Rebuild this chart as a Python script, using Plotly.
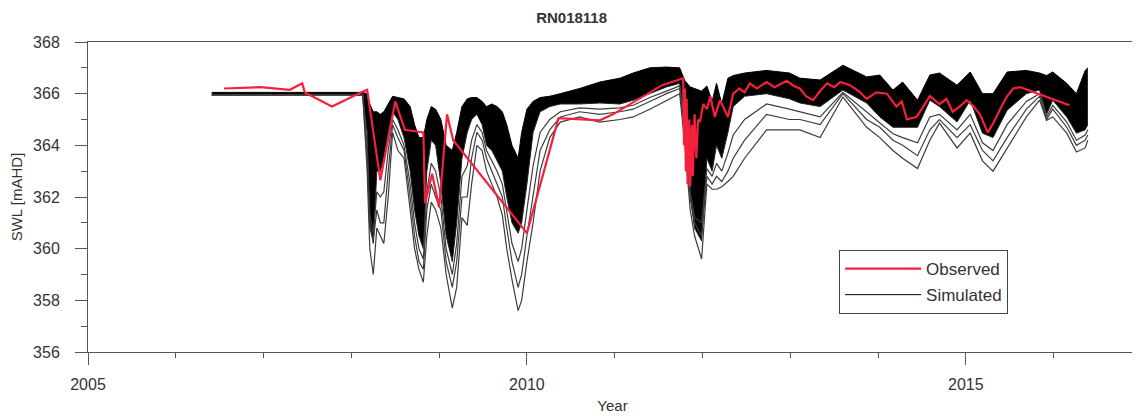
import plotly.graph_objects as go

chart_title = "RN018118"
x_title = "Year"
y_title = "SWL [mAHD]"
x_major_ticks = [2005, 2010, 2015]
x_minor_ticks = [2006, 2007, 2008, 2009, 2011, 2012, 2013, 2014, 2016]
y_major_ticks = [356, 358, 360, 362, 364, 366, 368]
y_minor_ticks = [357, 359, 361, 363, 365, 367]

# Observed water level (red)
obs_year = [2006.55, 2006.96, 2007.30, 2007.44, 2007.47, 2007.78, 2008.12, 2008.18,
            2008.33, 2008.50, 2008.61, 2008.82, 2008.84, 2008.92, 2009.00, 2009.09,
            2009.16, 2010.00, 2010.36, 2010.83, 2010.98, 2011.54, 2011.78, 2011.79,
            2011.80, 2011.81, 2011.82, 2011.83, 2011.85, 2011.86, 2011.88, 2011.89,
            2011.91, 2011.93, 2011.95, 2011.97, 2012.01, 2012.05, 2012.09, 2012.14,
            2012.20, 2012.25, 2012.29, 2012.35, 2012.42, 2012.48, 2012.54, 2012.62,
            2012.73, 2012.82, 2012.96, 2013.04, 2013.11, 2013.18, 2013.26, 2013.34,
            2013.42, 2013.50, 2013.57, 2013.68, 2013.78, 2013.87, 2013.98, 2014.10,
            2014.21, 2014.27, 2014.33, 2014.44, 2014.52, 2014.59, 2014.70, 2014.78,
            2014.85, 2014.93, 2015.01, 2015.09, 2015.16, 2015.25, 2015.32, 2015.39,
            2015.47, 2015.54, 2015.62, 2016.18]
obs_swl = [366.20, 366.25, 366.15, 366.40, 366.05, 365.50, 366.06, 366.15,
           362.65, 365.70, 364.60, 364.50, 361.76, 362.90, 361.60, 365.20,
           364.20, 360.60, 365.05, 364.97, 365.20, 366.33, 366.60, 364.00,
           366.20, 363.00, 365.80, 362.50, 365.00, 362.40, 364.80, 362.80,
           365.20, 363.50, 365.00, 364.90, 365.60, 365.40, 365.90, 365.10,
           365.75, 365.40, 365.10, 366.00, 366.20, 366.05, 366.40, 366.20,
           366.45, 366.25, 366.50, 366.30, 366.20, 365.90, 365.75, 366.10,
           366.40, 366.25, 366.45, 366.33, 366.10, 365.80, 366.05, 366.00,
           365.50, 365.70, 365.00, 365.10, 365.50, 365.90, 365.60, 365.80,
           365.30, 365.50, 365.75, 365.50, 365.20, 364.50, 364.90, 365.40,
           365.90, 366.20, 366.25, 365.55]

# Simulated ensemble, read as envelope members
sim_year = [2006.41, 2008.13, 2008.18, 2008.21, 2008.25, 2008.29, 2008.33, 2008.37,
            2008.42, 2008.47, 2008.53, 2008.60, 2008.67, 2008.72, 2008.77, 2008.82,
            2008.86, 2008.91, 2008.96, 2009.02, 2009.08, 2009.15, 2009.20, 2009.26,
            2009.32, 2009.37, 2009.43, 2009.49, 2009.54, 2009.60, 2009.66, 2009.72,
            2009.77, 2009.83, 2009.90, 2009.94, 2010.00, 2010.07, 2010.15, 2010.26,
            2010.38, 2010.60, 2010.83, 2011.06, 2011.21, 2011.40, 2011.59, 2011.74,
            2011.80, 2011.86, 2011.91, 2011.99, 2012.05, 2012.11, 2012.16, 2012.22,
            2012.29, 2012.35, 2012.48, 2012.73, 2012.99, 2013.11, 2013.34, 2013.60,
            2013.87, 2014.02, 2014.17, 2014.28, 2014.45, 2014.59, 2014.70, 2014.90,
            2015.05, 2015.19, 2015.31, 2015.47, 2015.69, 2015.84, 2015.92, 2015.99,
            2016.15, 2016.26, 2016.36, 2016.39]
sim_top = [366.05, 366.05, 366.00, 365.60, 365.30, 365.30, 365.20, 365.30,
           365.60, 365.90, 365.85, 365.80, 365.50, 364.80, 364.30, 364.30,
           365.00, 365.50, 365.40, 365.00, 364.00, 363.80, 364.50, 365.50,
           365.80, 365.85, 365.85, 365.70, 365.50, 365.60, 365.50, 365.30,
           364.80, 364.00, 363.50, 364.50, 365.40, 365.70, 365.85, 365.90,
           366.00, 366.20, 366.45, 366.60, 366.80, 367.00, 367.03, 367.00,
           366.50, 366.26, 366.20, 366.10, 366.30, 365.70, 366.40, 365.60,
           366.60, 366.70, 366.80, 366.90, 366.80, 366.60, 366.53, 367.10,
           366.65, 366.72, 366.14, 366.45, 365.75, 366.72, 366.80, 366.33,
           366.84, 366.00, 366.00, 366.84, 366.90, 366.80, 366.70, 366.84,
           366.40, 366.00, 366.90, 367.00]
sim_dense_low = [365.95, 365.95, 364.50, 361.00, 360.20, 363.00, 363.00, 363.50,
                 364.50, 365.30, 365.00, 364.30, 363.00, 361.50, 360.50, 360.00,
                 363.00, 364.20, 364.00, 362.50, 360.50, 359.50, 361.00, 363.50,
                 364.50, 365.00, 365.20, 364.80, 364.00, 363.80, 363.40, 363.00,
                 362.00, 361.00, 360.60, 361.00, 362.50, 364.50, 365.30, 365.50,
                 365.60, 365.60, 365.64, 365.60, 365.75, 366.00, 366.26, 366.40,
                 365.00, 362.00, 360.80, 360.30, 363.50, 363.00, 364.00, 363.50,
                 364.50, 365.50, 365.90, 366.00, 365.80, 365.64, 365.50, 366.14,
                 365.64, 365.10, 364.70, 364.70, 364.70, 365.75, 365.50, 364.90,
                 365.75, 364.47, 364.30, 365.36, 366.00, 366.14, 365.20, 365.75,
                 365.10, 364.47, 364.60, 364.80]
sim_low = [365.95, 365.95, 364.00, 361.30, 360.60, 362.20, 362.00, 362.20,
           363.80, 365.00, 364.60, 364.00, 362.50, 361.00, 360.00, 359.60,
           362.20, 363.30, 363.00, 362.00, 360.00, 359.00, 360.20, 362.80,
           363.20, 364.20, 364.80, 364.50, 363.80, 363.40, 363.00, 362.50,
           361.40, 360.20, 359.50, 360.00, 361.50, 363.20, 364.50, 365.00,
           365.30, 365.45, 365.40, 365.45, 365.55, 365.85, 366.10, 366.30,
           364.80, 362.20, 361.20, 361.00, 363.10, 362.80, 363.30, 363.00,
           363.70, 364.40, 365.00, 365.60, 365.40, 365.30, 365.10, 366.05,
           365.30, 364.90, 364.45, 364.30, 364.10, 365.10, 365.20, 364.60,
           365.20, 364.10, 363.80, 364.80, 365.70, 366.00, 365.10, 365.55,
           364.90, 364.20, 364.40, 364.60]
sim_mid = [365.95, 365.95, 363.50, 360.80, 360.30, 361.50, 361.00, 361.00,
           363.00, 364.80, 364.30, 363.80, 362.00, 360.50, 359.50, 359.20,
           361.50, 362.50, 362.00, 361.50, 359.50, 358.50, 359.50, 362.00,
           362.00, 363.50, 364.50, 364.20, 363.50, 363.00, 362.50, 362.00,
           360.80, 359.50, 358.50, 359.00, 360.50, 362.00, 363.80, 364.60,
           365.10, 365.30, 365.20, 365.30, 365.40, 365.70, 366.00, 366.20,
           364.50, 362.00, 361.00, 360.50, 362.80, 362.50, 362.80, 362.60,
           363.00, 363.50, 364.20, 365.20, 365.00, 365.00, 364.80, 366.00,
           365.00, 364.70, 364.20, 364.00, 363.60, 364.60, 365.00, 364.30,
           364.80, 363.80, 363.40, 364.30, 365.40, 365.90, 365.00, 365.40,
           364.70, 364.00, 364.20, 364.40]
sim_min = [365.95, 365.95, 363.00, 360.00, 359.00, 360.80, 360.50, 360.20,
           362.00, 364.50, 363.80, 363.50, 361.50, 360.00, 359.20, 358.70,
           360.50, 361.80, 361.50, 360.80, 359.00, 357.70, 358.50, 361.20,
           360.90, 362.50, 364.00, 363.80, 363.00, 362.50, 362.00, 361.30,
           360.00, 358.80, 357.60, 358.00, 359.50, 361.00, 363.00, 364.30,
           364.90, 365.10, 364.90, 365.00, 365.10, 365.40, 365.75, 366.00,
           364.00, 361.50, 360.50, 359.60, 362.50, 362.30, 362.30, 362.40,
           362.60, 362.80, 363.50, 364.60, 364.60, 364.60, 364.30, 365.87,
           364.70, 364.30, 363.80, 363.50, 363.10, 364.20, 364.86, 363.90,
           364.47, 363.40, 363.00, 363.90, 365.10, 365.75, 364.97, 365.10,
           364.47, 363.74, 363.90, 364.20]

FONT = "Liberation Sans, Arial, sans-serif"
TEXT = "#333333"
AX = "#555555"
GRAYLINE = "#3c3c3c"

fig = go.Figure()

# dense part of the ensemble
fig.add_trace(go.Scatter(x=sim_year, y=sim_top, mode="lines", name="Simulated",
                         line=dict(color="black", width=1), legendgroup="sim",
                         legendrank=2, hoverinfo="skip"))
fig.add_trace(go.Scatter(x=sim_year, y=sim_dense_low, mode="lines", fill="tonexty",
                         fillcolor="black", line=dict(color="#222222", width=1),
                         legendgroup="sim", showlegend=False, hoverinfo="skip"))
for member in (sim_low, sim_mid, sim_min):
    fig.add_trace(go.Scatter(x=sim_year, y=member, mode="lines",
                             line=dict(color=GRAYLINE, width=1.2),
                             legendgroup="sim", showlegend=False, hoverinfo="skip"))

fig.add_trace(go.Scatter(x=obs_year, y=obs_swl, mode="lines", name="Observed",
                         line=dict(color="#f5203c", width=2.2), legendgroup="obs",
                         legendrank=1))

# the page body adds an 8px offset, so the figure is 8px smaller than the window
fig.update_layout(
    width=1132, height=408,
    margin=dict(l=80, r=3, t=34, b=64, autoexpand=False),
    paper_bgcolor="white", plot_bgcolor="white",
    font=dict(family=FONT, size=16, color=TEXT),
    title=dict(text="<b>" + chart_title + "</b>", x=0.461, xref="paper",
               xanchor="center", y=0.977, yref="container", yanchor="middle",
               font=dict(size=15, family=FONT, color=TEXT)),
    showlegend=True,
    legend=dict(x=0.716, y=0.329, xanchor="left", yanchor="top",
                bordercolor="#444444", borderwidth=1, bgcolor="white",
                font=dict(size=17, family=FONT, color=TEXT),
                itemwidth=76, traceorder="grouped", tracegroupgap=1),
)

fig.update_xaxes(
    range=[2005, 2016.95], tickmode="array", tickvals=x_major_ticks,
    ticks="outside", ticklen=12, tickwidth=1, tickcolor=AX,
    showline=True, linecolor=AX, linewidth=1, mirror=True, automargin=False,
    showgrid=False, zeroline=False, ticklabelstandoff=6,
    tickfont=dict(size=16, family=FONT, color=TEXT),
    minor=dict(tickmode="array", tickvals=x_minor_ticks, ticks="outside",
               ticklen=5, tickcolor=AX, showgrid=False),
    title=dict(text=x_title, standoff=8, font=dict(size=15, family=FONT, color=TEXT)),
)
fig.update_yaxes(
    range=[356, 368], tickmode="array", tickvals=y_major_ticks,
    ticks="outside", ticklen=12, tickwidth=1, tickcolor=AX,
    showline=True, linecolor=AX, linewidth=1, mirror=True, automargin=False,
    showgrid=False, zeroline=False, ticklabelstandoff=12,
    tickfont=dict(size=16, family=FONT, color=TEXT),
    minor=dict(tickmode="array", tickvals=y_minor_ticks, ticks="outside",
               ticklen=6, tickcolor=AX, showgrid=False),
    title=dict(text=y_title, standoff=10, font=dict(size=15, family=FONT, color=TEXT)),
)

fig.write_html("out.html")
